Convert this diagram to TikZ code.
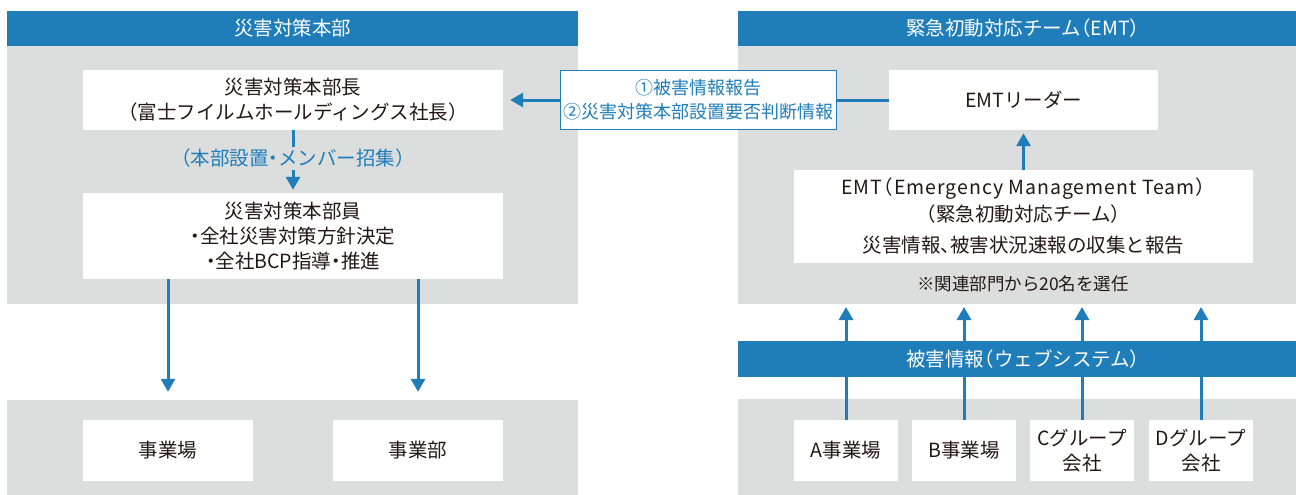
\documentclass[tikz,border=0pt]{standalone}
\usepackage{fontspec}
\setmainfont[RawFeature=+halt]{Noto Sans CJK JP}
\usetikzlibrary{arrows.meta}
\definecolor{hqblue}{RGB}{31,126,185}
\definecolor{panegray}{RGB}{220,221,221}
\definecolor{ink}{RGB}{35,24,21}
\newcommand{\bodyfont}{\fontsize{19.5}{25}\selectfont}
\newcommand{\reportfont}{\fontsize{18}{24}\selectfont}
\newcommand{\notefont}{\fontsize{17.5}{22}\selectfont}
\begin{document}
\begin{tikzpicture}[x=1pt,y=-1pt]
    \tikzstyle{every node}=[inner sep=0pt,align=center,text=ink,font=\bodyfont];
    \tikzstyle{head}=[fill=hqblue,text=white,minimum height=35pt];
    \tikzstyle{box}=[fill=white,minimum height=61pt];
    \tikzstyle{link}=[draw=hqblue,line width=3pt,-{Triangle[width=14pt,length=13pt]}];
    \useasboundingbox (0,0) rectangle (1296,495);

    \fill[panegray] (7,46) rectangle (578,304);
    \fill[panegray] (7,400) rectangle (578,495);
    \fill[panegray] (738,46) rectangle (1296,304);
    \fill[panegray] (738,399) rectangle (1296,495);

    \node at (292.5,28.5) (hqhead) [head,minimum width=571pt] {災害対策本部};
    \node at (1023,28.5) (emthead) [head,minimum width=570pt] {緊急初動対応チーム（EMT）};

    \node at (293,100) (chief) [box,minimum width=420pt,minimum height=60pt] {災害対策本部長\\（富士フイルムホールディングス社長）};
    \node at (293,236) (staff) [box,minimum width=420pt,minimum height=86pt] {災害対策本部員\\・全社災害対策方針決定\\・全社BCP指導・推進};
    \node at (168,450.5) (site) [box,minimum width=170pt] {事業場};
    \node at (418,450.5) (division) [box,minimum width=170pt] {事業部};

    \node at (1023.5,100) (leader) [box,minimum width=269pt,minimum height=60pt] {EMTリーダー};
    \node at (1023.5,216.5) (emt) [box,minimum width=459pt,minimum height=93pt] {{\addfontfeature{LetterSpace=5}EMT（Emergency Management Team）}\\[2pt]（緊急初動対応チーム）\\[6pt]災害情報、被害状況速報の収集と報告};
    \node at (1023,284) (note) [font=\notefont] {※関連部門から20名を選任};

    \node at (846,450.5) (siteA) [box,minimum width=104pt] {A事業場};
    \node at (964,450.5) (siteB) [box,minimum width=104pt] {B事業場};
    \node at (1082,450.5) (groupC) [box,minimum width=104pt] {Cグループ\\会社};
    \node at (1201,450.5) (groupD) [box,minimum width=104pt] {Dグループ\\会社};
    \coordinate (intake) at (1023,307);

    \draw[link,shorten >=3pt] (chief) -- (staff) node[pos=0.45,fill=panegray,text=hqblue,inner sep=2pt] {（本部設置・メンバー招集）};
    \draw[link,shorten >=28pt] (staff.south -| site) -- (site.north);
    \draw[link,shorten >=28pt] (staff.south -| division) -- (division.north);

    \draw[link,shorten >=7pt] (leader) -- (chief);
    \node at (698,100) (report) [draw=hqblue,line width=1pt,fill=white,text=hqblue,font=\reportfont,minimum width=276pt,minimum height=58pt] {①被害情報報告\\②災害対策本部設置要否判断情報};

    \draw[link,shorten >=3pt] (emt) -- (leader);
    \foreach \s in {siteA,siteB,groupC,groupD}
        \draw[link] (\s.north) -- (\s.north |- intake);
    \node at (1023,359) (web) [head,minimum width=570pt,minimum height=36pt] {被害情報（ウェブシステム）};
\end{tikzpicture}
\end{document}
